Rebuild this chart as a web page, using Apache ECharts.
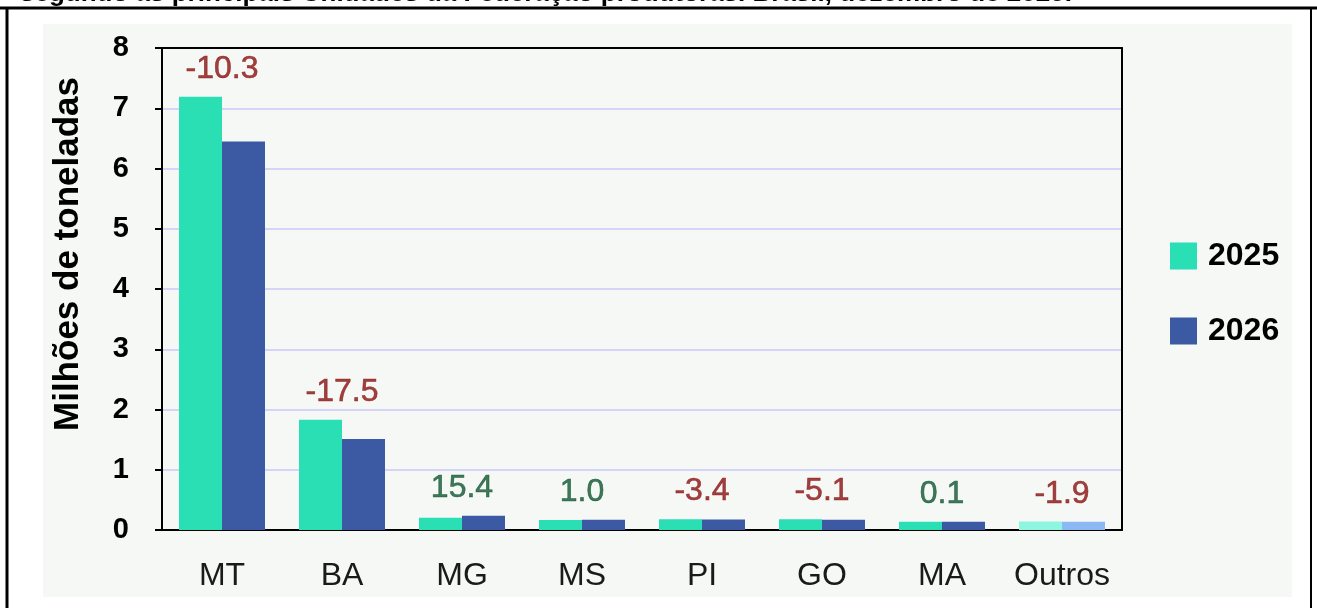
<!DOCTYPE html>
<html>
<head>
<meta charset="utf-8">
<script src="https://cdn.jsdelivr.net/npm/echarts@6/dist/echarts.min.js"></script>
<style>
  html, body { margin: 0; padding: 0; background: #ffffff; }
  #chart { width: 1317px; height: 608px; }
</style>
</head>
<body>
<div id="chart"></div>
<script>
// Produção por Unidade da Federação (milhões de toneladas)
const categories = ['MT', 'BA', 'MG', 'MS', 'PI', 'GO', 'MA', 'Outros'];
const values2025 = [7.19, 1.83, 0.205, 0.168, 0.18, 0.18, 0.138, 0.14];
const values2026 = [6.45, 1.51, 0.237, 0.170, 0.174, 0.171, 0.138, 0.137];
// Variação percentual 2026/2025
const changeLabels = ['-10.3', '-17.5', '15.4', '1.0', '-3.4', '-5.1', '0.1', '-1.9'];
const yTicks = [0, 1, 2, 3, 4, 5, 6, 7, 8];
const seriesNames = ['2025', '2026'];
const titleText = 'segundo as principais Unidades da Federação produtoras. Brasil, dezembro de 2025.';
const yAxisTitle = 'Milhões de toneladas';

const FONT = '"Liberation Sans", Arial, sans-serif';
const C25 = '#29dfb3', C26 = '#3b5aa3';
const C25_LIGHT = '#8ef5df', C26_LIGHT = '#8ab9f4';
const RED = '#8a1212', GREEN = '#125632';
const lastIdx = categories.indexOf('Outros');

function barData(vals, light) {
  return vals.map((v, i) => i === lastIdx ? { value: v, itemStyle: { color: light } } : v);
}

const labelPoints = categories.map((c, i) => {
  const col = changeLabels[i].startsWith('-') ? RED : GREEN;
  return {
    value: Math.max(values2025[i], values2026[i]),
    label: { formatter: changeLabels[i], color: col, textBorderColor: col, textBorderWidth: 0.6 }
  };
});

const frameAxisLine = { show: true, onZero: false, lineStyle: { color: '#000', width: 2 } };

const chart = echarts.init(document.getElementById('chart'), null, { renderer: 'canvas' });

chart.setOption({
  animation: false,
  backgroundColor: '#ffffff',
  textStyle: { fontFamily: FONT },
  graphic: [
    { type: 'rect', z: -10, shape: { x: 43, y: 24, width: 1249, height: 573 }, style: { fill: '#f6f8f6' } },
    { type: 'line', shape: { x1: 0, y1: 8, x2: 1317, y2: 8 }, style: { stroke: '#000', lineWidth: 3 } },
    { type: 'line', shape: { x1: 7, y1: 7, x2: 7, y2: 608 }, style: { stroke: '#000', lineWidth: 3 } },
    { type: 'line', shape: { x1: 1311, y1: 7, x2: 1311, y2: 608 }, style: { stroke: '#000', lineWidth: 2 } },
    {
      type: 'text', x: 20, y: -6,
      style: { text: titleText, font: 'bold 26px ' + FONT, fill: '#000', align: 'left', verticalAlign: 'middle' }
    },
    {
      type: 'text', x: 68, y: 254, rotation: Math.PI / 2,
      style: { text: yAxisTitle, font: 'bold 35px ' + FONT, fill: '#000', align: 'center', verticalAlign: 'middle' }
    }
  ],
  legend: {
    data: seriesNames,
    orient: 'vertical',
    left: 1165,
    top: 235,
    itemWidth: 27,
    itemHeight: 27,
    itemGap: 43,
    icon: 'rect',
    textStyle: { fontSize: 32, fontWeight: 'bold', color: '#000', fontFamily: FONT, padding: [0, 0, 0, 6] }
  },
  grid: {
    left: 162, right: 195, top: 48, bottom: 78,
    show: false
  },
  xAxis: [
    {
      type: 'category',
      data: categories,
      axisLine: { lineStyle: { color: '#000', width: 2 } },
      axisTick: { show: false },
      axisLabel: { interval: 0, fontSize: 32, color: '#1a1a1a', margin: 30, fontFamily: FONT }
    },
    {
      type: 'category', position: 'top', data: categories,
      axisLine: frameAxisLine, axisTick: { show: false }, axisLabel: { show: false }, splitLine: { show: false }
    }
  ],
  yAxis: [
    {
      type: 'value',
      min: yTicks[0],
      max: yTicks[yTicks.length - 1],
      interval: 1,
      axisLine: { show: true, lineStyle: { color: '#000', width: 2 } },
      axisTick: { show: true, length: 7, lineStyle: { color: '#000', width: 2 } },
      axisLabel: { fontSize: 29, fontWeight: 'bold', color: '#000', margin: 33, fontFamily: FONT, padding: [4, 0, 0, 0] },
      splitLine: { show: true, lineStyle: { color: '#c8c8fa', width: 1.5 } }
    },
    {
      type: 'value', position: 'right',
      min: yTicks[0], max: yTicks[yTicks.length - 1], interval: 1,
      axisLine: frameAxisLine, axisTick: { show: false }, axisLabel: { show: false }, splitLine: { show: false }
    }
  ],
  series: [
    {
      name: seriesNames[0], type: 'bar', data: barData(values2025, C25_LIGHT),
      itemStyle: { color: C25 }, barWidth: 43, barGap: '0%'
    },
    {
      name: seriesNames[1], type: 'bar', data: barData(values2026, C26_LIGHT),
      itemStyle: { color: C26 }, barWidth: 43, barGap: '0%'
    },
    {
      name: 'variacao', type: 'scatter', data: labelPoints, silent: true, z: 5,
      symbolSize: 1, itemStyle: { color: 'rgba(0,0,0,0)' },
      label: { show: true, position: 'top', distance: 11, fontSize: 32, fontFamily: FONT }
    }
  ]
});
</script>
</body>
</html>
